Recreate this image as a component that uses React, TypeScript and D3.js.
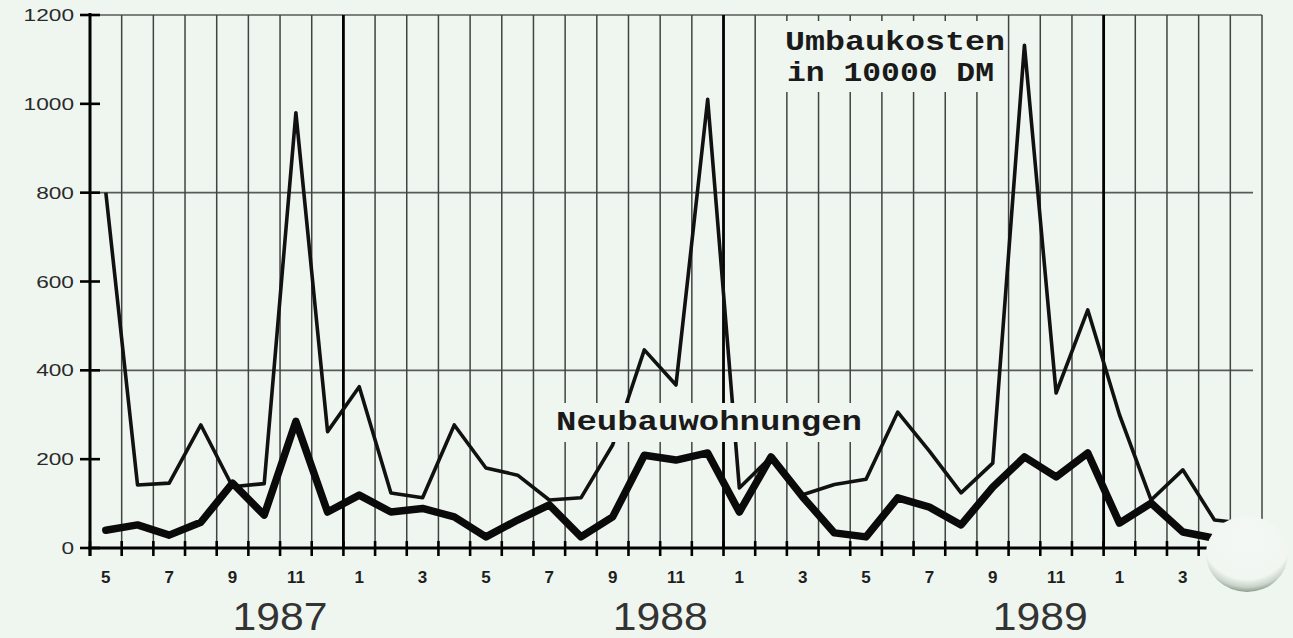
import React, { useEffect, useRef } from 'react';
import * as d3 from 'd3';

// Monatsreihe 5/1987 bis 5/1990
const months = [
    '5', '6', '7', '8', '9', '10', '11', '12',
    '1', '2', '3', '4', '5', '6', '7', '8', '9', '10', '11', '12',
    '1', '2', '3', '4', '5', '6', '7', '8', '9', '10', '11', '12',
    '1', '2', '3', '4', '5',
];

// Umbaukosten in 10000 DM
const umbaukosten = [
    800, 142, 146, 277, 138, 145, 980, 262,
    363, 124, 113, 277, 180, 164, 108, 113, 232, 446, 367, 1010,
    135, 205, 120, 143, 155, 306, 218, 124, 191, 1132, 349, 536,
    300, 108, 176, 63, 55,
];

// Neubauwohnungen
const neubauwohnungen = [
    40, 52, 29, 58, 146, 74, 285, 81,
    119, 81, 89, 70, 25, 63, 97, 25, 70, 209, 198, 214,
    81, 205, 115, 34, 25, 113, 92, 52, 137, 205, 160, 214,
    56, 101, 36, 22, 15,
];

const yTicks = [0, 200, 400, 600, 800, 1000, 1200];
const yGrid = [400, 800, 1200];
const years = ['1987', '1988', '1989'];
const yearLabelAt = [6, 18, 30];
const yearStarts = [8, 20, 32];
const lastLabelledMonth = 34;

const W = 1293;
const H = 638;
const BG = '#eff6f0';

const App: React.FC = () => {
    const svgRef = useRef<SVGSVGElement>(null);

    useEffect(() => {
        const svg = d3.select(svgRef.current);
        svg.selectAll('*').remove();

        svg.attr('width', W).attr('height', H)
            .style('background', BG);

        const n = months.length;
        const x = d3.scaleLinear().domain([0, n]).range([90, 1262]);
        const y = d3.scaleLinear().domain([0, 1200]).range([548, 15]);
        const cx = (i: number) => x(i + 0.5);

        const defs = svg.append('defs');
        const grad = defs.append('radialGradient')
            .attr('id', 'blob')
            .attr('cx', '50%').attr('cy', '30%').attr('r', '72%');
        grad.append('stop').attr('offset', '0').attr('stop-color', '#f4f8f4');
        grad.append('stop').attr('offset', '0.74').attr('stop-color', '#f1f6f1');
        grad.append('stop').attr('offset', '0.88').attr('stop-color', '#c9d3c9');
        grad.append('stop').attr('offset', '1').attr('stop-color', '#7a8a7a');

        // horizontal grid
        svg.append('g').selectAll('line').data(yGrid).join('line')
            .attr('x1', x(0))
            .attr('x2', d => d === 1200 ? x(n) : x(n) - 9)
            .attr('y1', d => y(d)).attr('y2', d => y(d))
            .attr('stroke', '#5a5a5a')
            .attr('stroke-width', 1.6);

        // vertical grid, one line per month boundary
        const bounds = d3.range(1, n + 1);
        svg.append('g').selectAll('line').data(bounds).join('line')
            .attr('x1', d => x(d)).attr('x2', d => x(d))
            .attr('y1', y(1200))
            .attr('y2', y(0))
            .attr('stroke', d => yearStarts.includes(d) ? '#000' : '#404440')
            .attr('stroke-width', d => yearStarts.includes(d) ? 2.8 : 1.5);

        // Umbaukosten (thin)
        const line = d3.line<number>()
            .x((_, i) => cx(i))
            .y(d => y(d));

        svg.append('path')
            .datum(umbaukosten)
            .attr('fill', 'none')
            .attr('stroke', '#111')
            .attr('stroke-width', 3.6)
            .attr('stroke-linejoin', 'round')
            .attr('d', line);

        // label backgrounds (they cut the grid underneath)
        svg.append('rect')
            .attr('x', 780).attr('y', 21).attr('width', 222).attr('height', 71)
            .attr('fill', BG);
        svg.append('rect')
            .attr('x', 550).attr('y', 403).attr('width', 318).attr('height', 39)
            .attr('fill', BG);

        // Neubauwohnungen (thick)
        svg.append('path')
            .datum(neubauwohnungen)
            .attr('fill', 'none')
            .attr('stroke', '#0a0a0a')
            .attr('stroke-width', 7.5)
            .attr('stroke-linejoin', 'round')
            .attr('stroke-linecap', 'round')
            .attr('d', line);

        // axes
        svg.append('line')
            .attr('x1', x(0) - 2).attr('x2', x(n))
            .attr('y1', y(0)).attr('y2', y(0))
            .attr('stroke', '#000').attr('stroke-width', 3);
        svg.append('line')
            .attr('x1', x(0)).attr('x2', x(0))
            .attr('y1', y(1200) - 2).attr('y2', y(0) + 8)
            .attr('stroke', '#000').attr('stroke-width', 3);

        svg.append('g').selectAll('line').data(d3.range(0, n + 1)).join('line')
            .attr('x1', d => x(d)).attr('x2', d => x(d))
            .attr('y1', y(0) - 7).attr('y2', y(0) + 8)
            .attr('stroke', '#000').attr('stroke-width', 2.6);

        svg.append('g').selectAll('line').data(yTicks).join('line')
            .attr('x1', x(0) - 10).attr('x2', x(0) + 10)
            .attr('y1', d => y(d)).attr('y2', d => y(d))
            .attr('stroke', '#000').attr('stroke-width', 2.6);

        svg.append('g').selectAll('text').data(yTicks).join('text')
            .attr('x', 74)
            .attr('y', d => y(d) + 6)
            .attr('text-anchor', 'end')
            .attr('textLength', d => String(d).length * 12.6)
            .attr('lengthAdjust', 'spacingAndGlyphs')
            .style('font-family', '"Liberation Sans", Arial, sans-serif')
            .style('font-size', '17px')
            .style('fill', '#2a2a2a')
            .text(d => d);

        // month labels
        svg.append('g').selectAll('text')
            .data(months.map((m, i) => ({ m, i })).filter(d => d.i % 2 === 0 && d.i <= lastLabelledMonth))
            .join('text')
            .attr('x', d => cx(d.i))
            .attr('y', 583)
            .attr('text-anchor', 'middle')
            .style('font-family', '"Liberation Sans", Arial, sans-serif')
            .style('font-size', '17px')
            .style('font-weight', 'bold')
            .style('fill', '#1e1e1e')
            .text(d => d.m);

        // year labels
        svg.append('g').selectAll('text').data(years).join('text')
            .attr('x', (_, i) => x(yearLabelAt[i]))
            .attr('y', 630)
            .attr('text-anchor', 'middle')
            .attr('textLength', 95)
            .attr('lengthAdjust', 'spacingAndGlyphs')
            .style('font-family', '"Liberation Sans", Arial, sans-serif')
            .style('font-size', '39px')
            .style('fill', '#333')
            .text(d => d);

        // series labels
        const labelFont = (t: d3.Selection<SVGTextElement, unknown, null, undefined>) =>
            t.style('font-family', '"Liberation Mono", "Courier New", monospace')
                .style('font-size', '27px')
                .style('font-weight', 'bold')
                .style('fill', '#1a1a1a')
                .attr('lengthAdjust', 'spacingAndGlyphs');

        svg.append('text').attr('x', 785).attr('y', 50)
            .attr('textLength', 220).call(labelFont).text('Umbaukosten');
        svg.append('text').attr('x', 787).attr('y', 81)
            .attr('textLength', 207).call(labelFont).text('in 10000 DM');
        svg.append('text').attr('x', 556).attr('y', 430)
            .attr('textLength', 306).call(labelFont).text('Neubauwohnungen');

        // scan blot in the lower right corner
        svg.append('ellipse')
            .attr('cx', 1247).attr('cy', 554)
            .attr('rx', 41).attr('ry', 38)
            .attr('fill', 'url(#blob)');
    }, []);

    return (
        <svg
            ref={svgRef}
            style={{ position: 'absolute', left: 0, top: 0, display: 'block' }}
        />
    );
};

export default App;
